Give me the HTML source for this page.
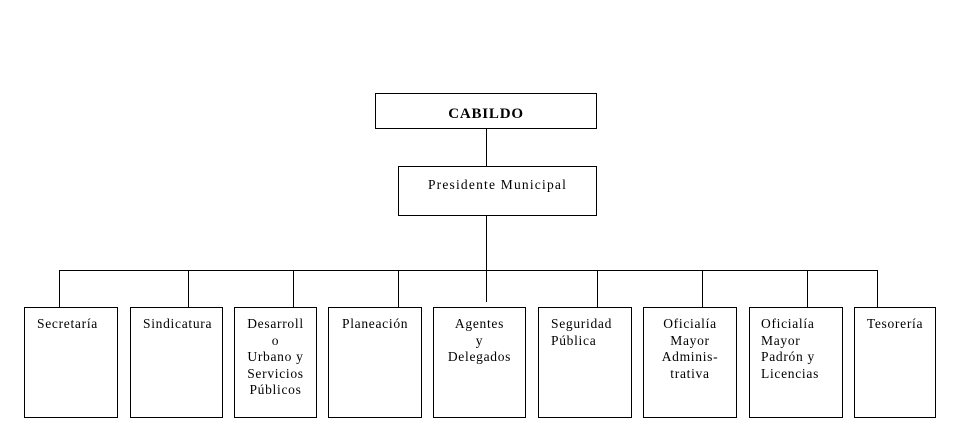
<!DOCTYPE html>
<html><head><meta charset="utf-8"><style>
body{margin:0;width:959px;height:439px;background:#fff;position:relative;overflow:hidden;font-family:"Liberation Serif",serif;font-size:13.5px;letter-spacing:0.7px;color:#000}
.b{position:absolute;border:1px solid #000;box-sizing:border-box}
.l{position:absolute;background:#000}
.t{position:absolute;line-height:16.5px;white-space:nowrap}
</style></head><body>
<div class="b" style="left:375px;top:93px;width:222px;height:36px"></div>
<div class="t" style="left:375px;top:106px;width:222px;text-align:center;font-weight:bold;font-size:15px;letter-spacing:0.8px">CABILDO</div>
<div class="b" style="left:398px;top:166px;width:199px;height:50px"></div>
<div class="t" style="left:398px;top:177px;width:199px;text-align:center;letter-spacing:1.2px">Presidente Municipal</div>
<div class="l" style="left:486px;top:129px;width:1px;height:37px"></div>
<div class="l" style="left:486px;top:216px;width:1px;height:86px"></div>
<div class="l" style="left:59px;top:270px;width:819px;height:1px"></div>
<div class="l" style="left:59px;top:270px;width:1px;height:37px"></div>
<div class="l" style="left:188px;top:270px;width:1px;height:37px"></div>
<div class="l" style="left:293px;top:270px;width:1px;height:37px"></div>
<div class="l" style="left:398px;top:270px;width:1px;height:37px"></div>
<div class="l" style="left:597px;top:270px;width:1px;height:37px"></div>
<div class="l" style="left:702px;top:270px;width:1px;height:37px"></div>
<div class="l" style="left:807px;top:270px;width:1px;height:37px"></div>
<div class="l" style="left:877px;top:270px;width:1px;height:37px"></div>

<div class="b" style="left:24px;top:307px;width:94px;height:111px"></div>
<div class="t" style="left:37px;top:316px">Secretaría</div>
<div class="b" style="left:130px;top:307px;width:93px;height:111px"></div>
<div class="t" style="left:143px;top:316px">Sindicatura</div>
<div class="b" style="left:234px;top:307px;width:83px;height:111px"></div>
<div class="t" style="left:234px;top:316px;width:83px;text-align:center">Desarroll<br>o<br>Urbano y<br>Servicios<br>Públicos</div>
<div class="b" style="left:328px;top:307px;width:94px;height:111px"></div>
<div class="t" style="left:342px;top:316px">Planeación</div>
<div class="b" style="left:433px;top:307px;width:93px;height:111px"></div>
<div class="t" style="left:433px;top:316px;width:93px;text-align:center">Agentes<br>y<br>Delegados</div>
<div class="b" style="left:538px;top:307px;width:94px;height:111px"></div>
<div class="t" style="left:551px;top:316px">Seguridad<br>Pública</div>
<div class="b" style="left:643px;top:307px;width:94px;height:111px"></div>
<div class="t" style="left:643px;top:316px;width:94px;text-align:center">Oficialía<br>Mayor<br>Adminis-<br>trativa</div>
<div class="b" style="left:749px;top:307px;width:94px;height:111px"></div>
<div class="t" style="left:761px;top:316px">Oficialía<br>Mayor<br>Padrón y<br>Licencias</div>
<div class="b" style="left:854px;top:307px;width:82px;height:111px"></div>
<div class="t" style="left:854px;top:316px;width:82px;text-align:center">Tesorería</div>
</body></html>
